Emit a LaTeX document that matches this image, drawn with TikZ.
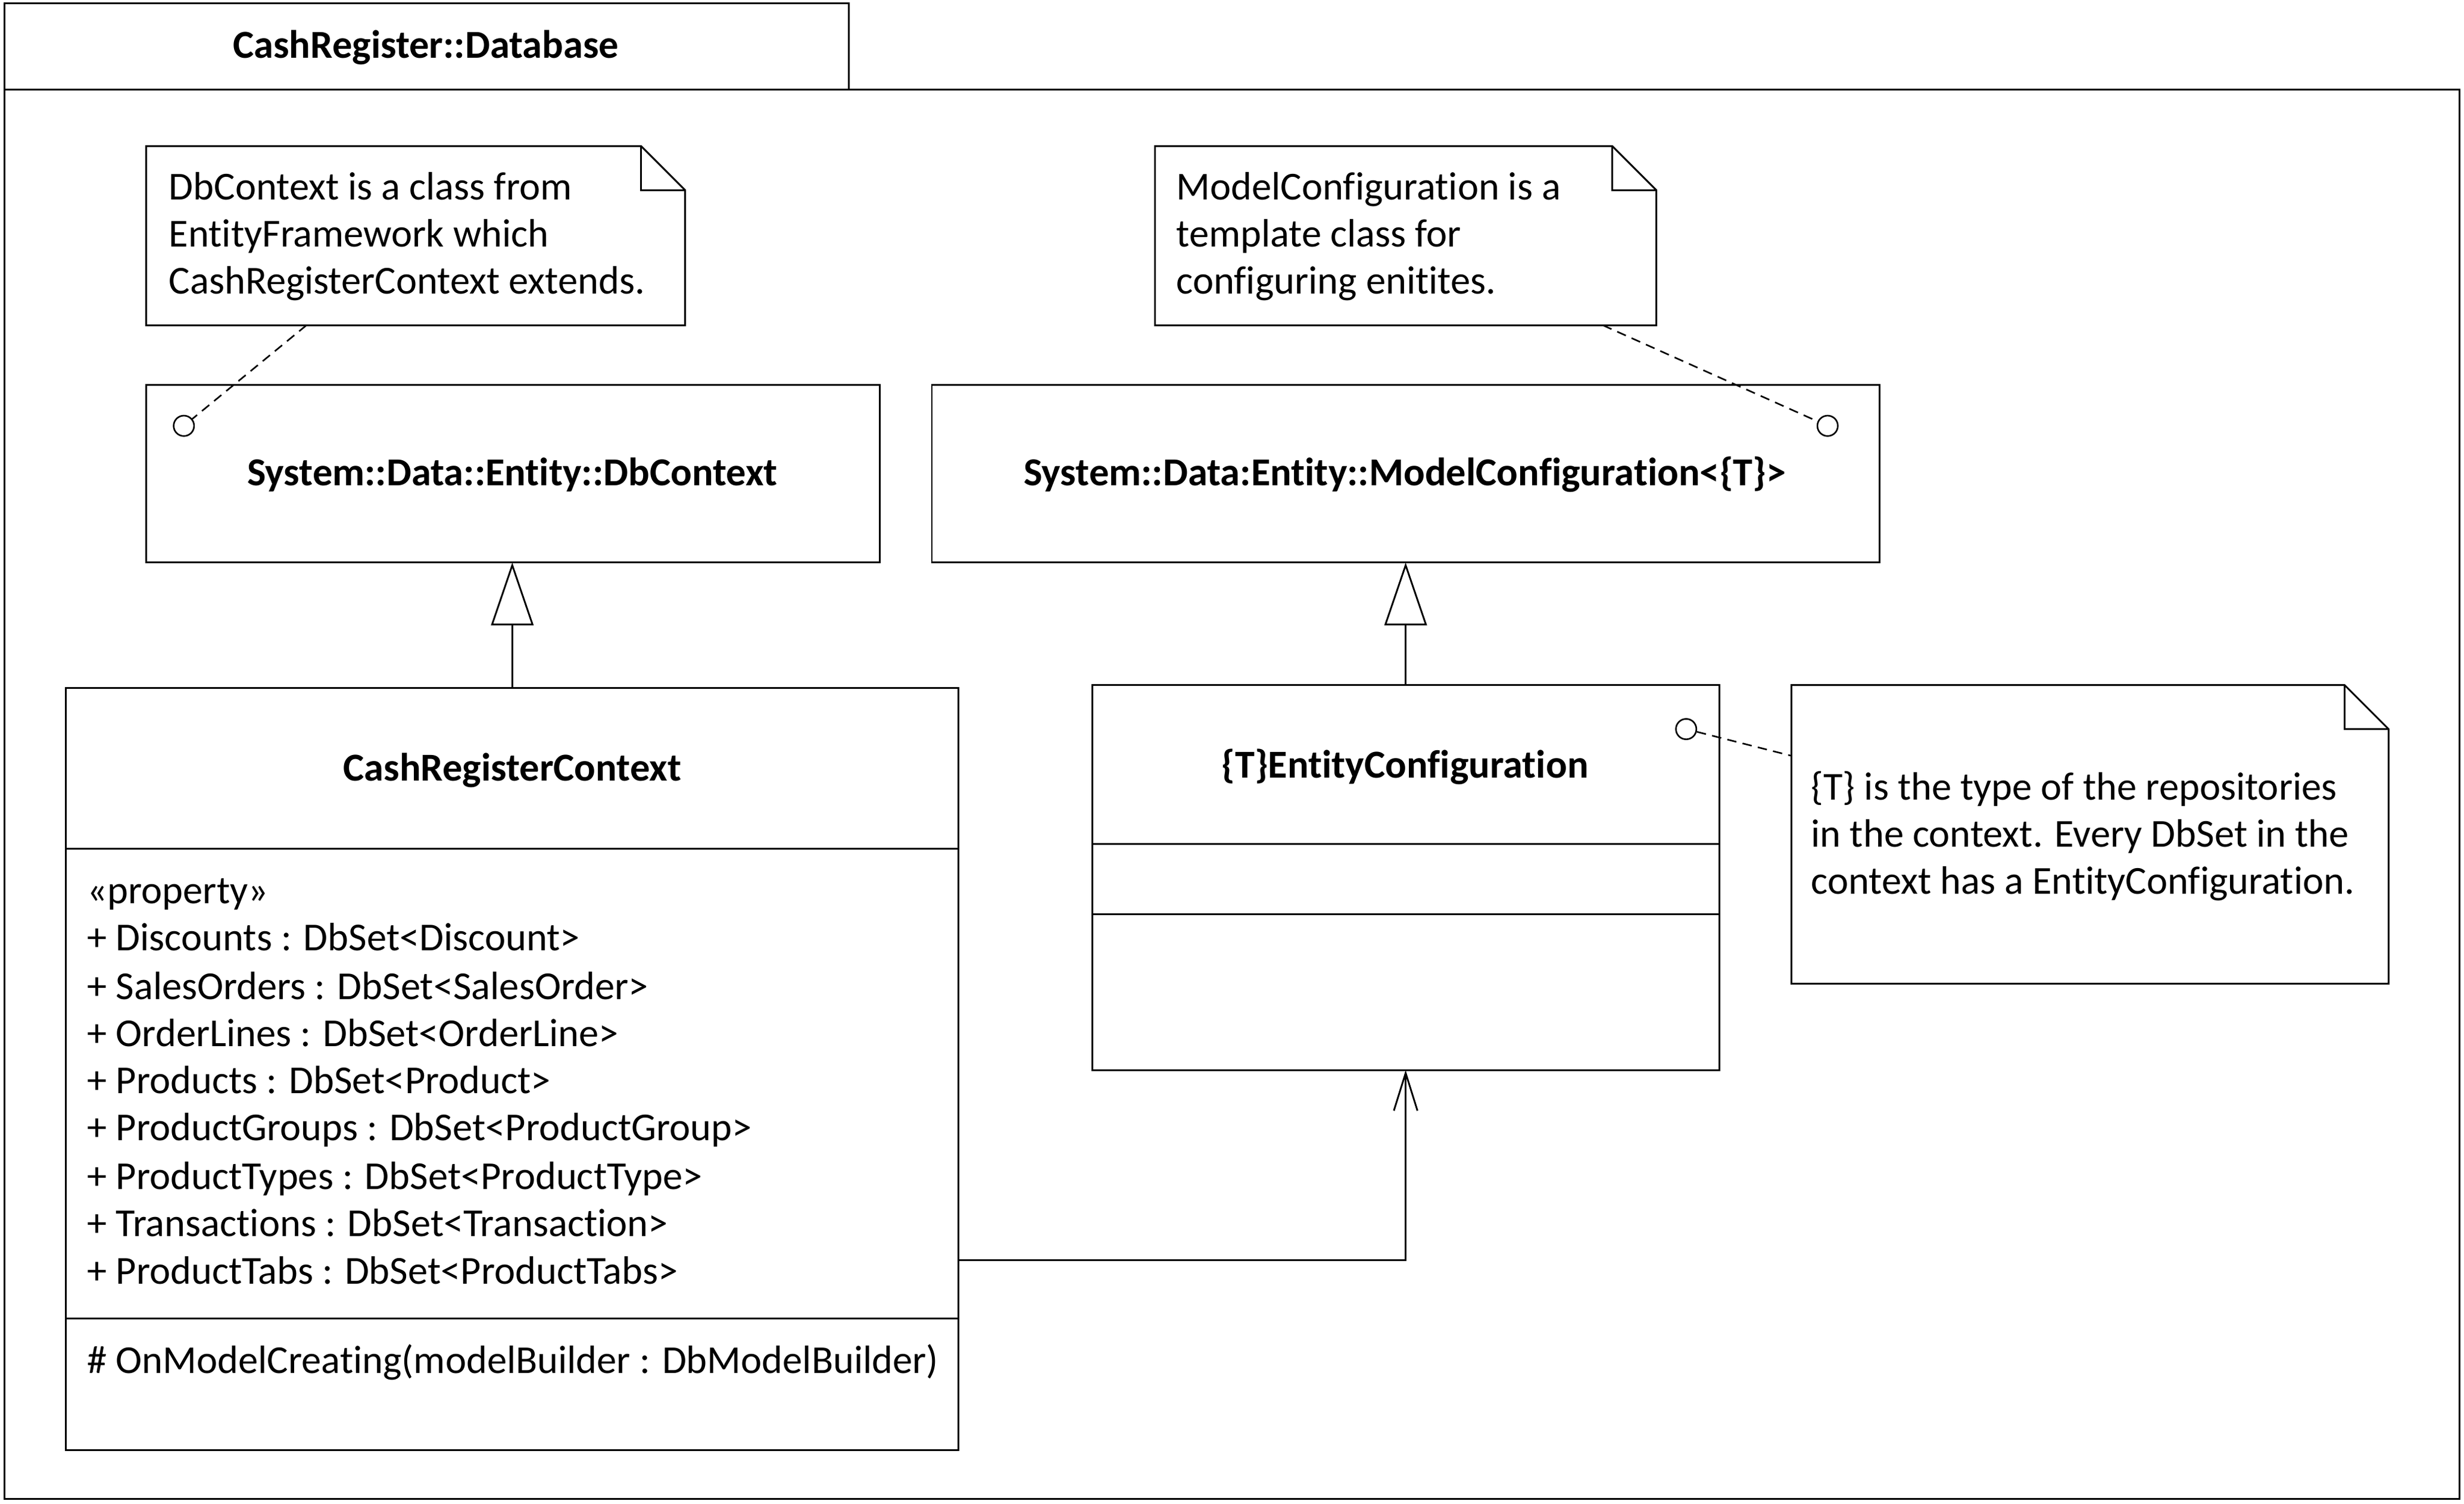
\documentclass[tikz,border=0pt]{standalone}
\usepackage{fontspec}
\setmainfont{Carlito}[Ligatures=NoCommon]
\usetikzlibrary{arrows.meta}
\begin{document}
\begin{tikzpicture}[x=1pt,y=-1pt,line width=1.1pt,
  font=\fontsize{25.2}{30}\selectfont,
  box/.style={draw,rectangle,inner sep=0pt,outer sep=0pt,anchor=north west},
  notebox/.style={rectangle,inner sep=0pt,outer sep=0pt,anchor=north west},
  txt/.style={anchor=base west,inner sep=0pt},
  ttl/.style={anchor=base,inner sep=0pt,font=\fontsize{25.2}{30}\selectfont\bfseries},
  pin/.style={draw,circle,inner sep=0pt,minimum size=13pt,line width=1pt},
  dsh/.style={dash pattern=on 6pt off 4pt,line width=1pt},
  gen/.style={-{Triangle[open,length=40pt,width=27pt]}},
  assoc/.style={-{Straight Barb[length=24pt,width=15pt]}}]
\useasboundingbox (0,0) rectangle (1568,956.8);
% package frame
\node[box,minimum width=537pt,minimum height=55pt] (tab) at (3,2) {};
\node[box,minimum width=1562pt,minimum height=897pt] (frame) at (3,57) {};
\node[ttl] (tabt) at (271,37) {CashRegister::Database};
% notes
\node[notebox,minimum width=343pt,minimum height=114pt] (n1) at (93,93) {};
\node[notebox,minimum width=319pt,minimum height=114pt] (n2) at (735,93) {};
\node[notebox,minimum width=380pt,minimum height=190pt] (n3) at (1140,436) {};
\foreach \n in {n1,n2,n3}{
  \draw (\n.north west) -- ([xshift=-28pt]\n.north east) -- ([yshift=-28pt]\n.north east) -- (\n.south east) -- (\n.south west) -- cycle;
  \draw ([xshift=-28pt]\n.north east) |- ([yshift=-28pt]\n.north east);
}
\node[txt] (n1l1) at (107,127) {DbContext is a class from};
\node[txt] (n1l2) at (107,157) {EntityFramework which};
\node[txt] (n1l3) at (107,187) {CashRegisterContext extends.};
\node[txt] (n2l1) at (748,127) {ModelConfiguration is a};
\node[txt] (n2l2) at (748,157) {template class for};
\node[txt] (n2l3) at (748,187) {configuring enitites.};
\node[txt] (n3l1) at (1152,509) {\{T\} is the type of the repositories};
\node[txt] (n3l2) at (1152,539) {in the context. Every DbSet in the};
\node[txt] (n3l3) at (1152,569) {context has a EntityConfiguration.};
% classes
\node[box,minimum width=467pt,minimum height=113pt] (dbc) at (93,245) {};
\node[ttl] (dbct) at (326,309) {System::Data::Entity::DbContext};
\node[box,minimum width=603pt,minimum height=113pt] (mc) at (593,245) {};
\node[ttl] (mct) at (894,309) {System::Data:Entity::ModelConfiguration<\{T\}>};
\node[box,minimum width=568pt,minimum height=485pt] (crc) at (42,438) {};
\draw (crc.west |- 0,540) -- (crc.east |- 0,540);
\draw (crc.west |- 0,839) -- (crc.east |- 0,839);
\node[ttl] (crct) at (326,497) {CashRegisterContext};
\node[txt] (a0) at (55,575) {«property»};
\node[txt] (a1) at (55,605) {+ Discounts : DbSet<Discount>};
\node[txt] (a2) at (55,636) {+ SalesOrders : DbSet<SalesOrder>};
\node[txt] (a3) at (55,666) {+ OrderLines : DbSet<OrderLine>};
\node[txt] (a4) at (55,696) {+ Products : DbSet<Product>};
\node[txt] (a5) at (55,726) {+ ProductGroups : DbSet<ProductGroup>};
\node[txt] (a6) at (55,757) {+ ProductTypes : DbSet<ProductType>};
\node[txt] (a7) at (55,787) {+ Transactions : DbSet<Transaction>};
\node[txt] (a8) at (55,817) {+ ProductTabs : DbSet<ProductTabs>};
\node[txt] (m1) at (55,874) {\# OnModelCreating(modelBuilder : DbModelBuilder)};
\node[box,minimum width=399pt,minimum height=245pt] (ec) at (695,436) {};
\draw (ec.west |- 0,537) -- (ec.east |- 0,537);
\draw (ec.west |- 0,582) -- (ec.east |- 0,582);
\node[ttl] (ect) at (894,495) {\{T\}EntityConfiguration};
% note attachments
\node[pin] (c1) at (117,271) {};
\node[pin] (c2) at (1163,271) {};
\node[pin] (c3) at (1073,464) {};
\coordinate (n1a) at (195,207);
\coordinate (n2a) at (1020,207);
\coordinate (n3a) at (1140,481);
\draw[dsh] (n1a) -- (c1);
\draw[dsh] (n2a) -- (c2);
\draw[dsh] (c3) -- (n3a);
% relations
\draw[gen] (crc.north) -- (crc.north |- dbc.south);
\draw[gen] (ec.north) -- (ec.north |- mc.south);
\draw[assoc] (crc.east |- 0,802) -| (ec.south);
\end{tikzpicture}
\end{document}
